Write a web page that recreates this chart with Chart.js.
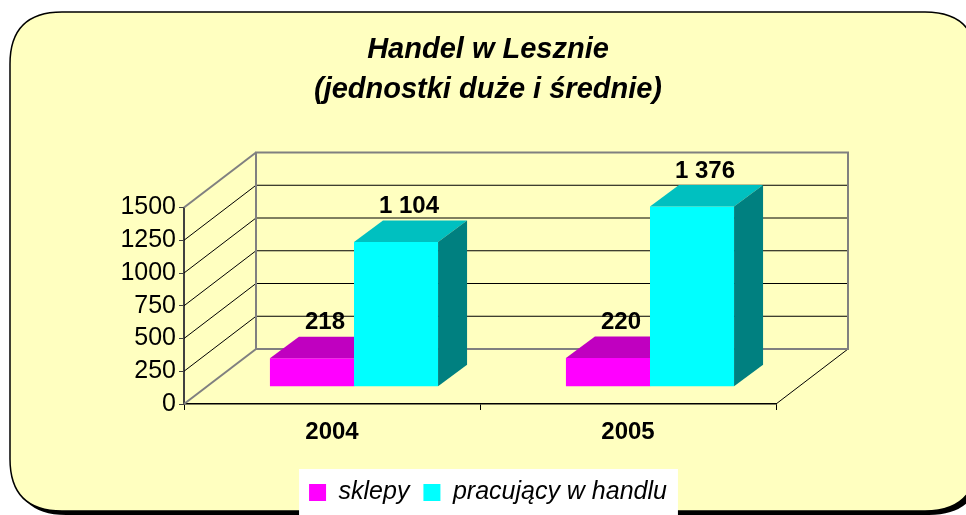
<!DOCTYPE html>
<html><head><meta charset="utf-8">
<script src="https://cdn.jsdelivr.net/npm/chart.js@4.4.1/dist/chart.umd.min.js"></script>
<style>html,body{margin:0;padding:0;background:#fff}canvas{display:block}</style>
</head><body>
<canvas id="c" width="966" height="515"></canvas>
<script>
// ---- data ----
const categories = ['2004', '2005'];
const sklepy = [218, 220];
const pracujacy = [1104, 1376];
const seriesNames = ['sklepy', 'pracujący w handlu'];
const yMin = 0, yMax = 1500, yStep = 250;
const titleLines = ['Handel w Lesznie', '(jednostki duże i średnie)'];

// ---- style ----
const FONT = "'Liberation Sans', Arial, sans-serif";
const WALL = {dx: 72, dy: -55};        // depth of the 3D box
const BAR_OFF = {dx: 22, dy: -17.3};   // bars' front plane offset from front plane
const BAR_DEPTH = {dx: 29, dy: -21.5}; // bar depth
const frontColors = ['#FF00FF', '#00FFFF'];
const faceColors = [{top: '#C000C0', side: '#800080'}, {top: '#00C0C0', side: '#008080'}];

function fmt(v) { return String(v).replace(/\B(?=(\d{3})+(?!\d))/g, ' '); }

function roundRect(ctx, x, y, w, h, r) {
  ctx.beginPath();
  ctx.moveTo(x + r, y);
  ctx.lineTo(x + w - r, y);
  ctx.quadraticCurveTo(x + w, y, x + w, y + r);
  ctx.lineTo(x + w, y + h - r);
  ctx.quadraticCurveTo(x + w, y + h, x + w - r, y + h);
  ctx.lineTo(x + r, y + h);
  ctx.quadraticCurveTo(x, y + h, x, y + h - r);
  ctx.lineTo(x, y + r);
  ctx.quadraticCurveTo(x, y, x + r, y);
  ctx.closePath();
}

function barProps(bar) { return bar.getProps(['x', 'y', 'base', 'width'], true); }

const plugin3d = {
  id: 'plugin3d',
  beforeDraw(chart) {
    const ctx = chart.ctx;
    ctx.save();
    ctx.fillStyle = '#fff';
    ctx.fillRect(0, 0, chart.width, chart.height);
    ctx.fillStyle = '#000';
    roundRect(ctx, 14, 16, 967, 499, 52); ctx.fill();
    roundRect(ctx, 10, 12, 967, 499, 52);
    ctx.fillStyle = '#FFFFC0'; ctx.fill();
    ctx.lineWidth = 1.5; ctx.strokeStyle = '#000'; ctx.stroke();
    const lg = chart.legend;
    if (lg && lg.legendHitBoxes && lg.legendHitBoxes.length) {
      let l = Infinity, r = -Infinity, t = Infinity;
      lg.legendHitBoxes.forEach(h => { l = Math.min(l, h.left); r = Math.max(r, h.left + h.width); t = Math.min(t, h.top); });
      ctx.fillStyle = '#fff';
      ctx.fillRect(l - 10, t - 11, r - l + 21, chart.height);
    }
    ctx.restore();
  },
  beforeDatasetsDraw(chart) {
    const ctx = chart.ctx;
    const ya = chart.scales.y;
    const L = chart.chartArea.left, R = chart.chartArea.right;
    const y0 = ya.getPixelForValue(yMin), yT = ya.getPixelForValue(yMax);
    ctx.save();
    ctx.strokeStyle = '#000'; ctx.lineWidth = 1;
    for (let v = yMin + yStep; v < yMax; v += yStep) {
      const yy = ya.getPixelForValue(v) + WALL.dy;
      ctx.beginPath(); ctx.moveTo(L + WALL.dx, yy); ctx.lineTo(R + WALL.dx, yy); ctx.stroke();
      const yf = ya.getPixelForValue(v);
      ctx.beginPath(); ctx.moveTo(L, yf); ctx.lineTo(L + WALL.dx, yy); ctx.stroke();
    }
    ctx.beginPath(); ctx.moveTo(R, y0); ctx.lineTo(R + WALL.dx, y0 + WALL.dy); ctx.stroke();
    ctx.strokeStyle = '#808080'; ctx.lineWidth = 2;
    ctx.strokeRect(L + WALL.dx, yT + WALL.dy, R - L, y0 - yT);
    ctx.beginPath(); ctx.moveTo(L, y0); ctx.lineTo(L + WALL.dx, y0 + WALL.dy); ctx.stroke();
    ctx.beginPath(); ctx.moveTo(L, yT); ctx.lineTo(L + WALL.dx, yT + WALL.dy); ctx.stroke();
    ctx.restore();
    ctx.save();
    ctx.translate(BAR_OFF.dx, BAR_OFF.dy);
  },
  afterDatasetDraw(chart, args) {
    const ctx = chart.ctx;
    const i = args.index;
    const c = faceColors[i];
    args.meta.data.forEach((bar, j) => {
      const p = barProps(bar);
      const l = p.x - p.width / 2, r = p.x + p.width / 2;
      const top = Math.min(p.y, p.base), bot = Math.max(p.y, p.base);
      ctx.save();
      ctx.beginPath();
      ctx.rect(-5000, -5000, 10000, 10000);
      chart.data.datasets.forEach((ds, k) => {
        if (k > i) {
          const q = barProps(chart.getDatasetMeta(k).data[j]);
          const bl = q.x - q.width / 2;
          if (bl >= r - 1) ctx.rect(bl, Math.min(q.y, q.base), q.width, Math.abs(q.base - q.y));
        }
      });
      ctx.clip('evenodd');
      ctx.fillStyle = c.top;
      ctx.beginPath();
      ctx.moveTo(l, top); ctx.lineTo(r, top);
      ctx.lineTo(r + BAR_DEPTH.dx, top + BAR_DEPTH.dy); ctx.lineTo(l + BAR_DEPTH.dx, top + BAR_DEPTH.dy);
      ctx.closePath(); ctx.fill();
      ctx.fillStyle = c.side;
      ctx.beginPath();
      ctx.moveTo(r, top); ctx.lineTo(r + BAR_DEPTH.dx, top + BAR_DEPTH.dy);
      ctx.lineTo(r + BAR_DEPTH.dx, bot + BAR_DEPTH.dy); ctx.lineTo(r, bot);
      ctx.closePath(); ctx.fill();
      ctx.restore();
    });
  },
  afterDatasetsDraw(chart) {
    const ctx = chart.ctx;
    ctx.restore();
    ctx.save();
    ctx.font = 'bold 24px ' + FONT;
    ctx.fillStyle = '#000';
    ctx.textAlign = 'center';
    ctx.textBaseline = 'middle';
    chart.data.datasets.forEach((ds, i) => {
      chart.getDatasetMeta(i).data.forEach((bar, j) => {
        const p = barProps(bar);
        ctx.fillText(fmt(ds.data[j]), p.x + BAR_OFF.dx + 13, p.y + BAR_OFF.dy + BAR_DEPTH.dy - 14);
      });
    });
    ctx.restore();
  }
};

new Chart(document.getElementById('c'), {
  type: 'bar',
  data: {
    labels: categories,
    datasets: [
      {label: seriesNames[0], data: sklepy, backgroundColor: frontColors[0], borderWidth: 0},
      {label: seriesNames[1], data: pracujacy, backgroundColor: frontColors[1], borderWidth: 0}
    ]
  },
  options: {
    responsive: false,
    animation: false,
    devicePixelRatio: 1,
    categoryPercentage: 0.568,
    barPercentage: 1,
    layout: {padding: {left: 10, right: 0, top: 0, bottom: 0}},
    datasets: {bar: {clip: false}},
    plugins: {
      tooltip: {enabled: false},
      title: {
        display: true,
        text: titleLines,
        color: '#000',
        font: {family: FONT, size: 29, weight: 'bold', style: 'italic', lineHeight: '40px'},
        padding: {top: 30, bottom: 97.5}
      },
      legend: {
        position: 'bottom',
        labels: {
          color: '#000',
          font: {family: FONT, size: 25, style: 'italic'},
          boxWidth: 17, boxHeight: 17, padding: 14
        }
      }
    },
    scales: {
      x: {
        grid: {drawOnChartArea: false, drawTicks: true, tickLength: 6, color: '#000', offset: true},
        border: {color: '#000', width: 1.5},
        ticks: {color: '#000', font: {family: FONT, size: 24, weight: 'bold'}, padding: 8},
        afterFit: s => { s.height = 62; }
      },
      y: {
        min: yMin, max: yMax,
        grid: {drawOnChartArea: false, drawTicks: true, tickLength: 5, color: '#404040'},
        border: {color: '#404040', width: 2},
        ticks: {stepSize: yStep, autoSkip: false, color: '#000', font: {family: FONT, size: 25}, padding: 3,
                callback: v => String(v)},
        afterFit: s => { s.width = 174; }
      },
      yR: {
        position: 'right',
        display: true,
        grid: {display: false},
        border: {display: false},
        ticks: {display: false},
        afterFit: s => { s.width = 190; }
      }
    }
  },
  plugins: [plugin3d]
});
</script>
</body></html>
